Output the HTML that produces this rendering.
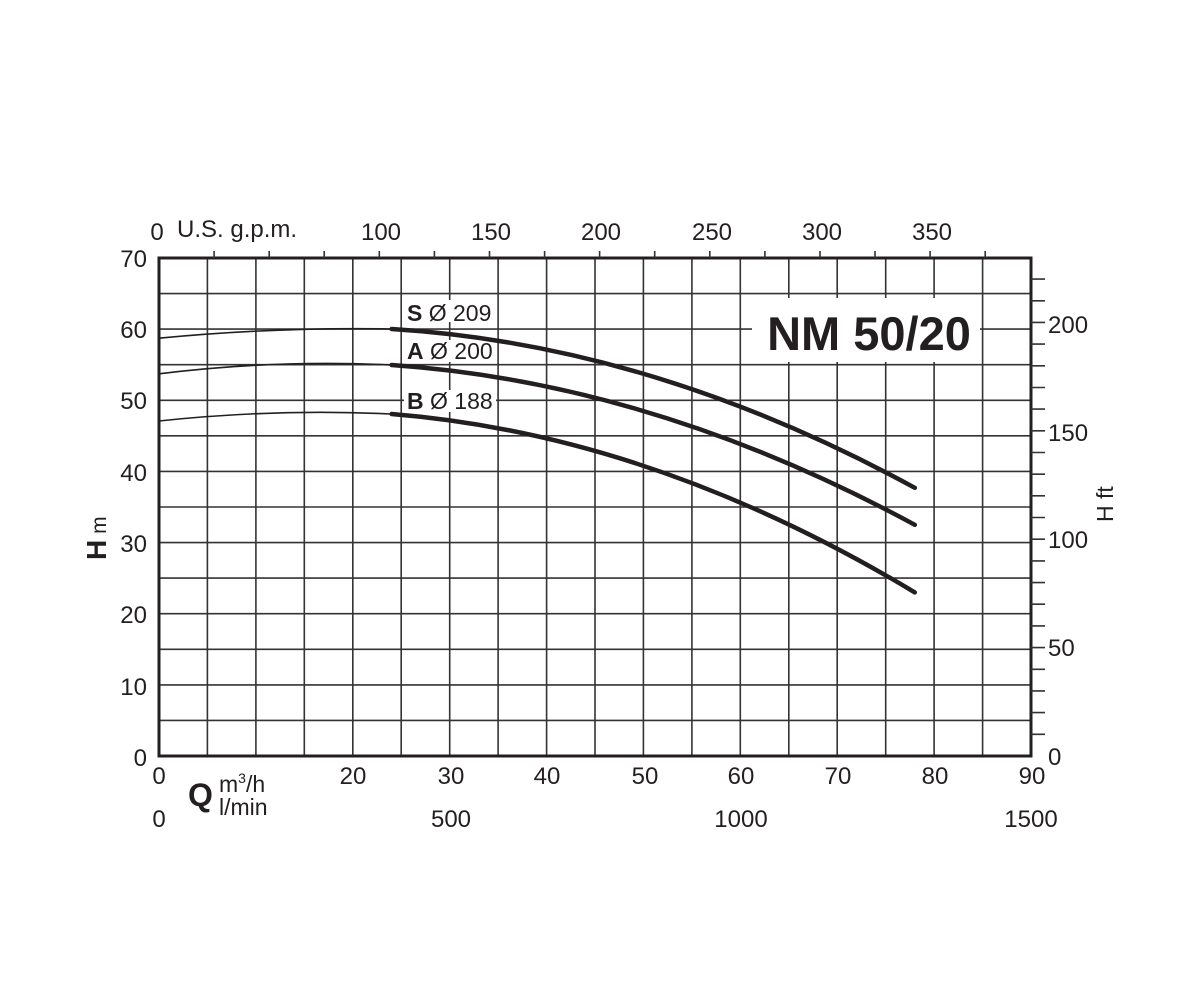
<!DOCTYPE html>
<html><head><meta charset="utf-8"><style>body{margin:0;background:#fff}svg{display:block}</style></head><body>
<svg width="1200" height="1000" xmlns="http://www.w3.org/2000/svg" font-family="Liberation Sans, sans-serif" fill="#231f20">
<g stroke="#333" stroke-width="1.6">
<path d="M207.4 258V756M255.9 258V756M304.3 258V756M352.8 258V756M401.2 258V756M449.7 258V756M498.1 258V756M546.6 258V756M595 258V756M643.4 258V756M691.9 258V756M740.3 258V756M788.8 258V756M837.2 258V756M885.7 258V756M934.1 258V756M982.6 258V756"/>
<path d="M159 293.6H1031M159 329.1H1031M159 364.7H1031M159 400.3H1031M159 435.8H1031M159 471.4H1031M159 507H1031M159 542.6H1031M159 578.1H1031M159 613.7H1031M159 649.3H1031M159 684.9H1031M159 720.4H1031"/>
</g>
<rect x="752" y="298" width="228" height="64" fill="#fff"/>
<rect x="404" y="300" width="92" height="22" fill="#fff"/>
<rect x="404" y="340" width="92" height="22" fill="#fff"/>
<rect x="404" y="390" width="92" height="22" fill="#fff"/>
<path d="M159 258H1031V756H159Z" fill="none" stroke="#231f20" stroke-width="3"/>
<g stroke="#333" stroke-width="1.6">
<path d="M214.1 258v-7M269.2 258v-7M324.2 258v-7M379.3 258v-7M434.4 258v-7M489.5 258v-7M544.6 258v-7M599.6 258v-7M654.7 258v-7M709.8 258v-7M764.9 258v-7M820 258v-7M875 258v-7M930.1 258v-7M985.2 258v-7"/>
<path d="M1031 734.3h14M1031 712.6h14M1031 690.9h14M1031 669.3h14M1031 647.6h14M1031 625.9h14M1031 604.2h14M1031 582.6h14M1031 560.9h14M1031 539.2h14M1031 517.5h14M1031 495.8h14M1031 474.2h14M1031 452.5h14M1031 430.8h14M1031 409.1h14M1031 387.5h14M1031 365.8h14M1031 344.1h14M1031 322.4h14M1031 300.8h14M1031 279.1h14"/>
</g>
<g fill="none" stroke="#231f20" stroke-linecap="round">
<path d="M159 338.2Q275.3 327 391.6 329" stroke-width="1.6"/>
<path d="M391.6 329Q653.2 345 914.8 487.8" stroke-width="4.5"/>
<path d="M159 373.8Q275.3 359.3 391.6 365" stroke-width="1.6"/>
<path d="M391.6 365Q653.2 383 914.8 524.8" stroke-width="4.5"/>
<path d="M159 421Q275.3 408.5 391.6 414" stroke-width="1.6"/>
<path d="M391.6 414Q653.2 435 914.8 592.4" stroke-width="4.5"/>
</g>
<g font-size="23">
<text x="407" y="321"><tspan font-weight="bold">S</tspan> Ø 209</text>
<text x="407" y="359"><tspan font-weight="bold">A</tspan> Ø 200</text>
<text x="407" y="409"><tspan font-weight="bold">B</tspan> Ø 188</text>
</g>
<text x="869" y="350" font-size="47" font-weight="bold" text-anchor="middle">NM 50/20</text>
<g font-size="24" text-anchor="end">
<text x="147" y="267">70</text><text x="147" y="338">60</text><text x="147" y="409">50</text><text x="147" y="481">40</text><text x="147" y="552">30</text><text x="147" y="623">20</text><text x="147" y="695">10</text><text x="147" y="766">0</text>
</g>
<g font-size="24" text-anchor="middle">
<text x="157" y="240">0</text><text x="381" y="240">100</text><text x="491" y="240">150</text><text x="601" y="240">200</text><text x="712" y="240">250</text><text x="822" y="240">300</text><text x="932" y="240">350</text>
<text x="159" y="784">0</text><text x="353" y="784">20</text><text x="451" y="784">30</text><text x="547" y="784">40</text><text x="645" y="784">50</text><text x="741" y="784">60</text><text x="838" y="784">70</text><text x="935" y="784">80</text><text x="1032" y="784">90</text>
<text x="159" y="827">0</text><text x="451" y="827">500</text><text x="741" y="827">1000</text><text x="1031" y="827">1500</text>
</g>
<text x="177" y="237" font-size="24">U.S. g.p.m.</text>
<g font-size="24">
<text x="1048" y="765">0</text><text x="1048" y="656">50</text><text x="1048" y="548">100</text><text x="1048" y="441">150</text><text x="1048" y="333">200</text>
</g>
<text x="188" y="806" font-size="32" font-weight="bold">Q</text>
<text x="219" y="792" font-size="23">m<tspan font-size="14" dy="-9">3</tspan><tspan dy="9">/h</tspan></text>
<text x="219" y="815" font-size="23">l/min</text>
<text transform="translate(106,560) rotate(-90)" font-size="28"><tspan font-weight="bold">H</tspan><tspan font-size="21"> m</tspan></text>
<text transform="translate(1113,522) rotate(-90)" font-size="23">H ft</text>
</svg>
</body></html>
